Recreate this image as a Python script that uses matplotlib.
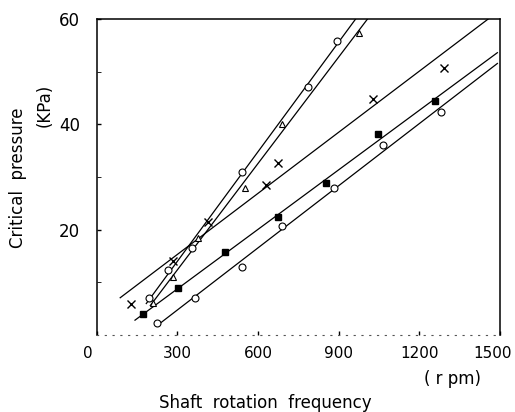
import numpy as np
import matplotlib
matplotlib.use("Agg")
import matplotlib.pyplot as plt
from matplotlib.transforms import ScaledTranslation

# values (rpm, kPa)
cross_x = [127, 284, 414, 631, 675, 1026, 1291]
cross_y = [5.9, 14.0, 21.4, 28.5, 32.6, 44.8, 50.7]

square_x = [172, 302, 478, 675, 851, 1045, 1257]
square_y = [4.0, 8.9, 15.7, 22.4, 28.8, 38.1, 44.4]

circle_x = [224, 366, 541, 690, 881, 1063, 1280]
circle_y = [2.3, 7.0, 12.9, 20.7, 27.9, 36.0, 42.3]

steep1_x = [194, 265, 354, 541, 787, 892]
steep1_y = [7.0, 12.3, 16.5, 30.9, 47.1, 55.8]

steep2_x = [209, 284, 377, 552, 687, 974]
steep2_y = [6.1, 11.0, 18.4, 27.9, 40.0, 57.3]

x_ticks = [0, 300, 600, 900, 1200, 1500]
y_ticks = [20, 40, 60]

plt.rcParams['font.family'] = ['DejaVu Sans']

fig = plt.figure(figsize=(5.15, 4.12), dpi=100)
ax = fig.add_axes([0.188, 0.187, 0.783, 0.767])

XMAX, YMAX = 1500, 60


def draw_series(xs, ys, marker, filled, ms, lead=30):
    m, b = np.polyfit(xs, ys, 1)
    x0 = min(xs) - lead
    x1 = min(XMAX - 10, (YMAX - b) / m + 20)
    xx = np.array([x0, x1])
    ax.plot(xx, m * xx + b, color='black', lw=0.9, zorder=2)
    if filled:
        ax.plot(xs, ys, linestyle='none', marker=marker, ms=ms,
                color='black', zorder=3)
    else:
        ax.plot(xs, ys, linestyle='none', marker=marker, ms=ms,
                markerfacecolor='white', markeredgecolor='black',
                markeredgewidth=0.8, zorder=3)


draw_series(cross_x, cross_y, 'x', True, 5.5, lead=40)
draw_series(square_x, square_y, 's', True, 5)
draw_series(circle_x, circle_y, 'o', False, 5, lead=0)
draw_series(steep1_x, steep1_y, 'o', False, 5, lead=10)
draw_series(steep2_x, steep2_y, '^', False, 4.5, lead=10)

ax.set_xlim(0, XMAX)
ax.set_ylim(0, YMAX)

ax.set_xticks(x_ticks)
ax.set_xticklabels([str(v) for v in x_ticks])
ax.set_yticks(y_ticks)
ax.set_yticklabels([str(v) for v in y_ticks])
ax.set_yticks([10, 30, 50], minor=True)
ax.tick_params(axis='both', direction='in', length=3, width=1,
               labelsize=11, colors='black')
ax.tick_params(axis='y', which='minor', direction='in', length=3)
ax.tick_params(axis='x', pad=8)
ax.tick_params(axis='y', pad=12)
ax.tick_params(axis='y', labelsize=12)

# the scan has the first and last x labels pulled inwards a little
xlabels = ax.get_xticklabels()
xlabels[0].set_transform(xlabels[0].get_transform()
                         + ScaledTranslation(-9 / 100, 0, fig.dpi_scale_trans))
xlabels[-1].set_transform(xlabels[-1].get_transform()
                          + ScaledTranslation(-8 / 100, 0, fig.dpi_scale_trans))

for side in ['left', 'right', 'top']:
    ax.spines[side].set_linewidth(1.1)
ax.spines['bottom'].set_linestyle((0, (1, 6)))
ax.spines['bottom'].set_color('#555555')

fig.text(18 / 515, 1 - 178 / 412, 'Critical  pressure', rotation=90,
         ha='center', va='center', fontsize=12)
fig.text(45 / 515, 1 - 105 / 412, '(KPa)', rotation=90,
         ha='center', va='center', fontsize=12)
fig.text(453 / 515, 1 - 379 / 412, '( r pm)', ha='center', va='center',
         fontsize=12)
fig.text(265 / 515, 1 - 403 / 412, 'Shaft  rotation  frequency',
         ha='center', va='center', fontsize=12)

fig.savefig('out.png', dpi=100)
